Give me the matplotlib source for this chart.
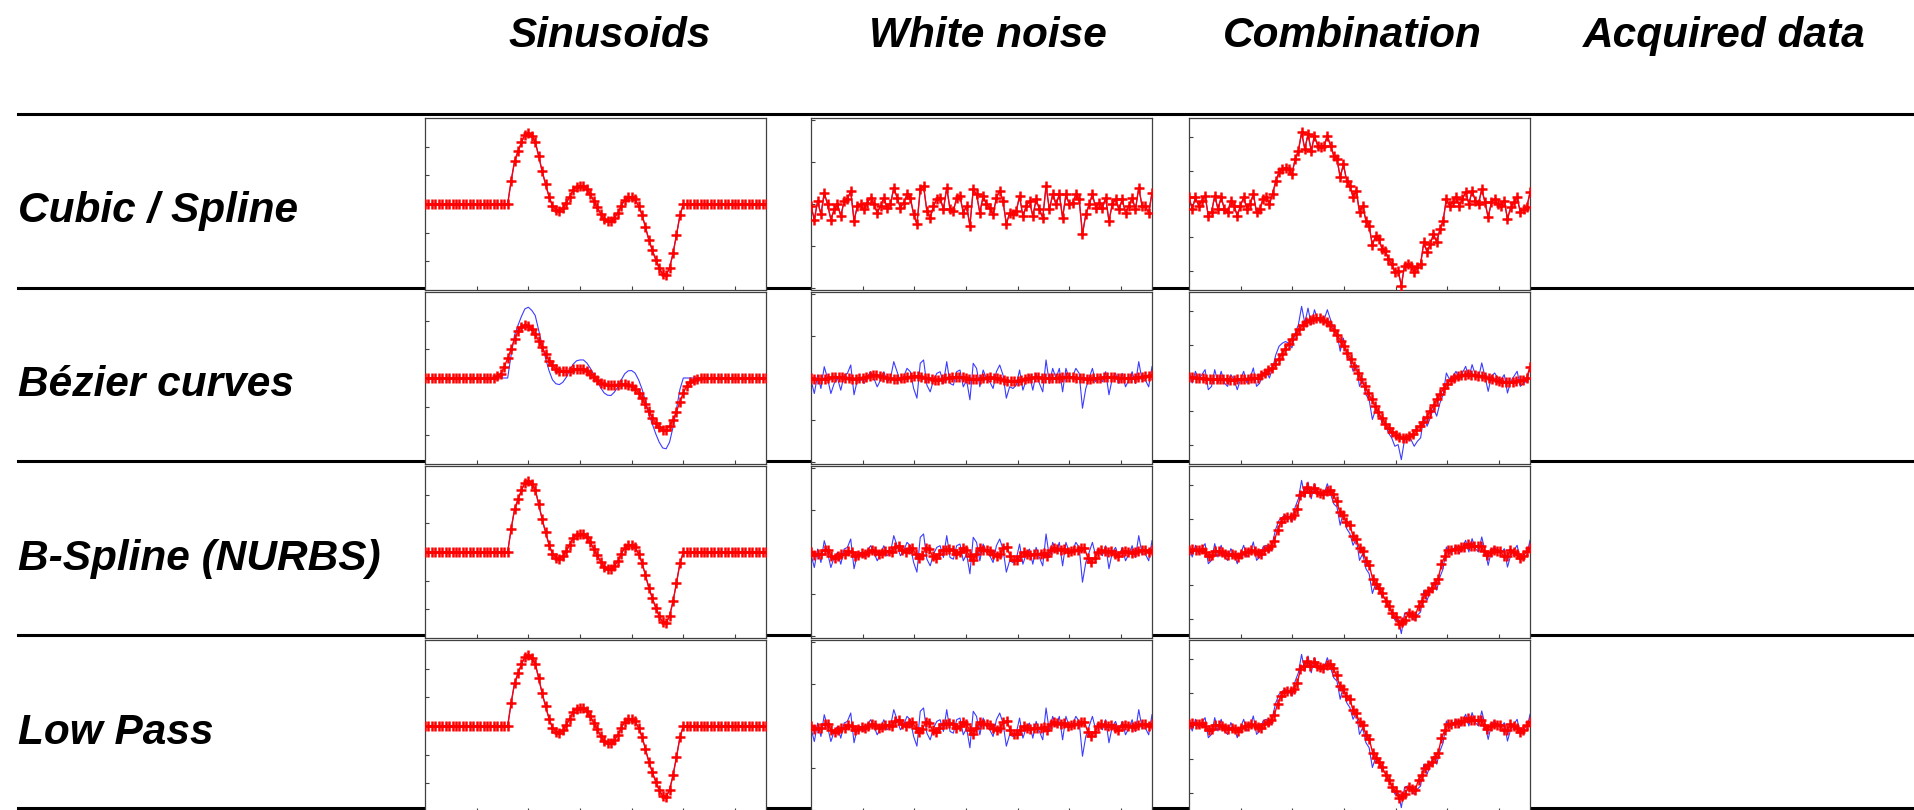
import numpy as np
import matplotlib
matplotlib.use("Agg")
from matplotlib import pyplot as plt
from matplotlib.lines import Line2D

W, H = 1914, 810

col_titles = ["Sinusoids", "White noise", "Combination", "Acquired data"]
row_titles = ["Cubic / Spline", "Bézier curves", "B-Spline (NURBS)", "Low Pass"]

# Sinusoid burst (tick = 1 unit)
sin_left = [0.0] * 25
sin_burst = [0.80, 1.49, 1.84, 2.15, 2.41, 2.47, 2.36, 2.18, 1.67, 1.15,
             0.69, 0.26, -0.06, -0.20, -0.23, -0.15, 0.02, 0.26, 0.48, 0.60,
             0.63, 0.63, 0.52, 0.34, 0.11, -0.11, -0.34, -0.52, -0.60, -0.61,
             -0.49, -0.31, -0.06, 0.15, 0.25, 0.26, 0.17, -0.06, -0.38, -0.80,
             -1.26, -1.61, -1.95, -2.24, -2.44, -2.47, -2.24, -1.72, -1.09, -0.40]
sin_right = [0.0] * 25
sinus = sin_left + sin_burst + sin_right

# Bezier fit of the sinusoid (flattened, smaller peaks)
bez_left = [0.0] * 21
bez_burst = [0.07, 0.15, 0.38, 0.69, 1.01, 1.36, 1.64, 1.78, 1.84, 1.82,
             1.70, 1.53, 1.30, 1.07, 0.84, 0.61, 0.44, 0.32, 0.25, 0.23,
             0.24, 0.26, 0.30, 0.32, 0.32, 0.30, 0.24, 0.15, 0.03, -0.06,
             -0.16, -0.22, -0.25, -0.25, -0.25, -0.23, -0.22, -0.22, -0.23, -0.28,
             -0.37, -0.51, -0.71, -0.92, -1.15, -1.38, -1.57, -1.72, -1.80, -1.80,
             -1.69, -1.46, -1.17, -0.83, -0.51, -0.28, -0.14, -0.06, -0.02]
bez_right = [0.0] * 20
sinus_bez = bez_left + bez_burst + bez_right

# White noise
noise = [-0.05, -0.37, 0.07, -0.25, 0.27, -0.01, -0.37, -0.13, -0.01, -0.29,
         0.07, 0.11, 0.31, -0.40, -0.05, -0.01, -0.13, 0.03, 0.15, -0.01,
         -0.21, -0.05, 0.15, -0.09, -0.01, 0.39, 0.15, -0.09, 0.03, 0.23,
         0.15, -0.25, -0.48, 0.35, 0.43, -0.17, -0.33, -0.05, 0.11, 0.15,
         -0.13, 0.39, -0.13, -0.17, 0.15, 0.19, -0.21, -0.05, -0.52, 0.35,
         0.23, -0.21, 0.19, -0.01, -0.09, -0.25, 0.15, 0.31, 0.07, -0.48,
         -0.21, -0.25, -0.17, 0.19, -0.29, -0.05, 0.07, -0.29, 0.11, -0.13,
         -0.33, 0.43, -0.13, 0.23, -0.01, 0.23, -0.33, 0.23, -0.01, 0.03,
         0.23, 0.11, -0.72, -0.25, -0.01, 0.23, -0.09, 0.03, -0.09, 0.15,
         -0.40, -0.01, 0.11, -0.13, 0.11, -0.21, -0.05, 0.15, -0.13, 0.39,
         -0.05, -0.05, -0.21, 0.27]

noise_bez = [0.0, -0.02, -0.03, -0.03, -0.02, 0.0, 0.02, 0.03, 0.03, 0.02,
             0.0, -0.01, -0.02, -0.02, -0.01, 0.01, 0.03, 0.05, 0.06, 0.06,
             0.05, 0.03, 0.01, -0.01, -0.02, -0.02, -0.01, 0.0, 0.02, 0.03,
             0.04, 0.04, 0.03, 0.01, -0.01, -0.03, -0.04, -0.04, -0.03, -0.01,
             0.01, 0.02, 0.03, 0.03, 0.02, 0.0, -0.02, -0.03, -0.03, -0.02,
             0.0, 0.01, 0.02, 0.01, 0.0, -0.02, -0.04, -0.06, -0.07, -0.07,
             -0.06, -0.04, -0.02, 0.0, 0.01, 0.02, 0.02, 0.01, 0.0, -0.01,
             -0.01, 0.0, 0.01, 0.02, 0.03, 0.03, 0.02, 0.01, 0.0, -0.01,
             -0.02, -0.02, -0.01, 0.0, 0.01, 0.02, 0.03, 0.03, 0.02, 0.01,
             0.0, -0.01, -0.01, 0.0, 0.01, 0.02, 0.03, 0.04, 0.05, 0.06]

noise_smooth = [0.0, -0.08, -0.05, -0.04, 0.05, 0.05, -0.1, -0.15, -0.1, -0.05,
                -0.05, 0.03, 0.0, -0.1, -0.08, -0.03, -0.04, 0.0, 0.05, 0.02,
                -0.05, -0.03, 0.03, 0.02, 0.0, 0.12, 0.15, 0.05, 0.0, 0.08,
                0.1, -0.05, -0.15, -0.08, 0.1, 0.08, -0.1, -0.15, -0.05, 0.05,
                0.05, 0.08, 0.05, -0.05, 0.0, 0.1, 0.05, -0.1, -0.2, -0.05,
                0.1, 0.05, 0.05, 0.03, -0.05, -0.1, -0.05, 0.1, 0.12, -0.1,
                -0.2, -0.2, -0.1, 0.0, -0.05, -0.08, -0.05, -0.05, -0.05, -0.03,
                -0.1, 0.05, 0.1, 0.08, 0.05, 0.08, 0.0, 0.02, 0.05, 0.05,
                0.1, 0.1, -0.15, -0.25, -0.15, 0.0, 0.05, 0.02, 0.0, 0.03,
                -0.05, -0.1, 0.0, 0.03, 0.0, -0.02, 0.0, 0.03, 0.05, 0.05,
                0.0, 0.05]

# Combination = slow wave + noise
comb = [0.20, -0.15, 0.20, -0.05, 0.10, 0.25, -0.35, -0.25, 0.25, -0.15,
        0.20, -0.15, -0.25, 0.10, -0.05, -0.35, -0.05, 0.20, -0.15, 0.00,
        0.30, -0.25, -0.15, 0.15, 0.20, 0.00, 0.30, 0.70, 0.95, 1.04,
        1.09, 1.04, 0.90, 1.34, 1.59, 2.14, 1.64, 2.09, 1.59, 2.04,
        1.74, 1.69, 1.74, 2.04, 1.74, 1.44, 1.34, 0.80, 1.19, 0.70,
        0.55, 0.20, 0.40, -0.25, -0.05, -0.50, -0.65, -1.24, -0.95, -1.04,
        -1.34, -1.39, -1.64, -1.79, -2.04, -1.99, -2.44, -1.84, -1.79, -1.84,
        -2.04, -1.89, -1.79, -1.14, -1.44, -1.19, -0.90, -1.14, -0.75, -0.50,
        0.15, -0.05, 0.05, 0.20, -0.05, 0.15, 0.35, 0.00, 0.40, 0.10,
        0.00, 0.45, 0.05, -0.40, 0.05, 0.15, 0.00, -0.05, 0.10, -0.45,
        -0.10, 0.05, 0.20, -0.25, -0.15, -0.10, 0.35]

comb_bez = [0.03, 0.02, 0.01, 0.0, -0.01, -0.02, -0.03, -0.03, -0.04, -0.04,
            -0.04, -0.04, -0.05, -0.05, -0.04, -0.04, -0.03, -0.02, -0.01, 0.0,
            0.0, 0.08, 0.15, 0.23, 0.31, 0.43, 0.58, 0.73, 0.88, 1.02,
            1.17, 1.32, 1.45, 1.57, 1.66, 1.73, 1.77, 1.79, 1.78, 1.74,
            1.67, 1.57, 1.44, 1.29, 1.12, 0.95, 0.76, 0.56, 0.36, 0.16,
            -0.04, -0.24, -0.44, -0.64, -0.84, -1.03, -1.21, -1.36, -1.50, -1.61,
            -1.69, -1.75, -1.78, -1.78, -1.74, -1.66, -1.56, -1.44, -1.31, -1.16,
            -1.00, -0.82, -0.64, -0.47, -0.30, -0.17, -0.07, 0.00, 0.05, 0.08,
            0.10, 0.11, 0.10, 0.09, 0.07, 0.05, 0.02, -0.01, -0.04, -0.07,
            -0.09, -0.11, -0.12, -0.12, -0.11, -0.09, -0.07, -0.05, 0.00, 0.33]

comb_smooth = [0.05, 0.08, 0.05, 0.05, 0.08, 0.0, -0.12, -0.08, 0.02, 0.03,
               0.0, -0.07, -0.1, -0.05, -0.1, -0.15, -0.05, 0.0, 0.0, 0.05,
               0.02, -0.03, -0.05, 0.07, 0.12, 0.17, 0.33,
               0.65, 0.90, 1.03, 1.05, 1.05, 1.11, 1.28, 1.69, 1.80, 1.95,
               1.79, 1.90, 1.80, 1.75, 1.72, 1.82, 1.84, 1.74, 1.51, 1.19,
               1.11, 0.90, 0.82, 0.48, 0.38, 0.12, 0.03, -0.27, -0.40, -0.80,
               -0.95, -1.08, -1.24, -1.46, -1.61, -1.82, -1.94, -2.15, -2.09, -2.02,
               -1.82, -1.89, -1.92, -1.60, -1.46, -1.26, -1.18, -1.08, -0.93, -0.80,
               -0.37, -0.13, 0.05, 0.07, 0.10, 0.10, 0.15, 0.15, 0.25, 0.17,
               0.17, 0.18, 0.17, 0.03, -0.10, 0.0, 0.07, 0.03, 0.02, -0.13,
               -0.13, 0.05, 0.0, -0.07, -0.17, -0.13, 0.03, 0.12]

raw_series = [sinus, noise, comb]
fit_series = [
    [sinus, noise, comb],
    [sinus_bez, noise_bez, comb_bez],
    [sinus, noise_smooth, comb_smooth],
    [sinus, noise_smooth, comb_smooth],
]
ylims = [3.0, 2.05, 2.57]

# layout in pixels
col_x = [(425, 766), (811, 1152), (1189, 1530)]
row_y = [(118, 290), (292, 464), (466, 638), (640, 812)]
sep_y = [114, 288, 461, 635, 808]
header_x = [610, 988, 1352, 1724]
label_base = [222, 396, 570, 744]


def fx(x):
    return x / W


def fy(y):
    return 1 - y / H


fig = plt.figure(figsize=(W / 100, H / 100), dpi=100)
fig.patch.set_facecolor("white")

for y in sep_y:
    fig.add_artist(Line2D([fx(18), fx(1914)], [fy(y), fy(y)], color="black",
                          lw=2.2, zorder=-5))

font = dict(family="Liberation Sans", fontsize=30.5, fontweight="bold",
            fontstyle="italic", color="black")
for cx, t in zip(header_x, col_titles):
    fig.text(fx(cx), fy(47), t, ha="center", va="baseline", **font)
for by, t in zip(label_base, row_titles):
    fig.text(fx(18), fy(by), t, ha="left", va="baseline", **font)

for r, (top, bot) in enumerate(row_y):
    for c, (left, right) in enumerate(col_x):
        ax = fig.add_axes([fx(left), fy(bot), (right - left) / W, (bot - top) / H])
        raw = raw_series[c]
        fit = fit_series[r][c]
        ax.plot(np.linspace(0, 330, len(raw)), raw, color="#1a1aff", lw=0.8,
                alpha=0.85, zorder=2)
        ax.plot(np.linspace(0, 330, len(fit)), fit, color="red", lw=1.0,
                marker="+", ms=6.5, mew=1.8, zorder=3)
        ax.set_xlim(0, 330)
        ax.set_ylim(-ylims[c], ylims[c])
        ax.set_xticks([50, 100, 150, 200, 250, 300])
        ax.set_yticks([-2, -1, 0, 1, 2])
        ax.tick_params(direction="in", length=3, width=0.8, color="#404040",
                       labelbottom=False, labelleft=False)
        for s in ax.spines.values():
            s.set_color("#404040")
            s.set_linewidth(0.9)

fig.savefig("out.png", dpi=100, facecolor="white")
